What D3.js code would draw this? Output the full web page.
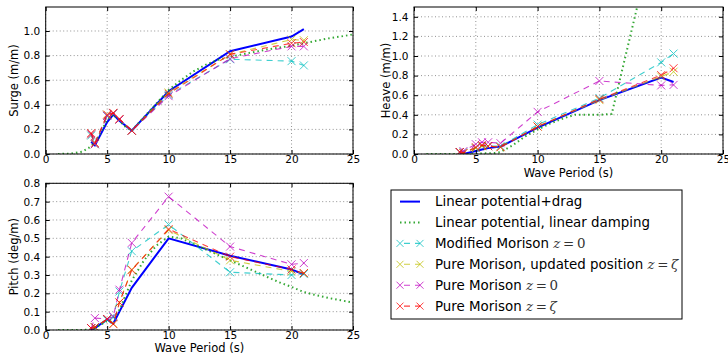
<!DOCTYPE html>
<html>
<head>
<meta charset="utf-8">
<script src="https://cdn.jsdelivr.net/npm/d3@7"></script>
<style>
  body { margin: 0; background: #fff; }
  svg text { font-family: "DejaVu Sans", sans-serif; fill: #000; }
  .tick text { font-size: 10.5px; }
  .axis-label { font-size: 11.5px; }
  .legend text { font-size: 13.4px; }
  .math { font-family: "DejaVu Serif", serif; font-style: italic; fill: #333; }
</style>
</head>
<body>
<svg id="chart" width="728" height="357"></svg>
<script>
// wave periods of the simulated cases, and the dense set for the linear-damping curve
const periods = [3.7, 4, 5, 5.5, 6, 7, 10, 15, 20, 21];
const dampPeriods = [1, 2, 3, 3.5, 4, 4.5, 5, 5.5, 6, 6.5, 7, 8, 9, 10, 11, 12, 13, 14, 15, 16, 17, 18, 19, 20, 21, 22, 23, 24, 25];

const xTicks = [0, 5, 10, 15, 20, 25];
const surgeTicks = [0, 0.2, 0.4, 0.6, 0.8, 1.0];
const heaveTicks = [0, 0.2, 0.4, 0.6, 0.8, 1.0, 1.2, 1.4];
const pitchTicks = [0, 0.1, 0.2, 0.3, 0.4, 0.5, 0.6, 0.7, 0.8];

const seriesLabels = ['Linear potential+drag', 'Linear potential, linear damping', 'Modified Morison ',
  'Pure Morison, updated position ', 'Pure Morison ', 'Pure Morison '];
const seriesMath = [null, null, ['z', '0'], ['z', 'ζ'], ['z', '0'], ['z', 'ζ']];

// surge (m/m)
const surgeDrag     = [0.10, 0.07, 0.26, 0.32, 0.27, 0.19, 0.51, 0.835, 0.955, 1.015];
const surgeDamping  = [0, 0.003, 0.02, 0.05, 0.09, 0.18, 0.28, 0.32, 0.27, 0.22, 0.19, 0.30, 0.41, 0.52, 0.60,
  0.67, 0.725, 0.765, 0.79, 0.81, 0.83, 0.85, 0.865, 0.88, 0.90, 0.92, 0.94, 0.955, 0.972];
const surgeModified = [0.15, 0.08, 0.31, 0.33, 0.28, 0.19, 0.48, 0.77, 0.755, 0.72];
const surgeUpdated  = [0.16, 0.08, 0.32, 0.33, 0.28, 0.19, 0.50, 0.81, 0.93, 0.925];
const surgePure0    = [0.16, 0.08, 0.31, 0.33, 0.28, 0.19, 0.47, 0.775, 0.875, 0.875];
const surgePureZeta = [0.17, 0.09, 0.32, 0.335, 0.285, 0.19, 0.49, 0.81, 0.90, 0.91];

// heave (m/m)
const heaveDrag     = [0.0, 0.0, 0.03, 0.045, 0.06, 0.075, 0.27, 0.55, 0.78, 0.735];
const heaveDamping  = [0, 0, 0, 0, 0, 0, 0.003, 0.005, 0.008, 0.01, 0.02, 0.09, 0.18, 0.25, 0.31,
  0.36, 0.40, 0.40, 0.40, 0.41, 0.94, 1.47, 2.0, null, null, null, null, null, null];
const heaveModified = [0.02, 0.02, 0.06, 0.08, 0.08, 0.08, 0.30, 0.57, 0.935, 1.025];
const heaveUpdated  = [0.02, 0.01, 0.06, 0.08, 0.08, 0.07, 0.28, 0.55, 0.79, 0.84];
const heavePure0    = [0.02, 0.03, 0.10, 0.12, 0.12, 0.11, 0.43, 0.745, 0.70, 0.705];
const heavePureZeta = [0.02, 0.01, 0.07, 0.09, 0.08, 0.07, 0.28, 0.56, 0.805, 0.875];

// pitch (deg/m)
const pitchDrag     = [0.0, 0.01, 0.058, 0.035, 0.10, 0.23, 0.50, 0.405, 0.33, 0.303];
const pitchDamping  = [0, 0, 0, 0.002, 0.01, 0.03, 0.05, 0.06, 0.11, 0.19, 0.27, 0.38, 0.46, 0.51, 0.50,
  0.47, 0.44, 0.41, 0.38, 0.35, 0.32, 0.29, 0.26, 0.235, 0.207, 0.19, 0.175, 0.162, 0.15];
const pitchModified = [0.01, 0.015, 0.055, 0.07, 0.21, 0.43, 0.575, 0.315, 0.30, 0.305];
const pitchUpdated  = [0.01, 0.015, 0.06, 0.035, 0.15, 0.33, 0.545, 0.38, 0.32, 0.31];
const pitchPure0    = [0.01, 0.065, 0.06, 0.075, 0.22, 0.475, 0.727, 0.455, 0.358, 0.365];
const pitchPureZeta = [0.01, 0.015, 0.06, 0.032, 0.15, 0.327, 0.55, 0.40, 0.33, 0.31];

// line styles, in legend order
const styles = [
  { color: '#0000ff', width: 2,   dash: null,    marker: false, opacity: 1 },
  { color: '#119911', width: 2,   dash: '1.5,3', marker: false, opacity: 0.85 },
  { color: '#00bfbf', width: 1.1, dash: '6,5',   marker: true,  opacity: 0.75 },
  { color: '#bfbf00', width: 1.1, dash: '6,5',   marker: true,  opacity: 0.75 },
  { color: '#bf00bf', width: 1.1, dash: '6,5',   marker: true,  opacity: 0.75 },
  { color: '#ff0000', width: 1.1, dash: '6,5',   marker: true,  opacity: 0.75 }
];

const svg = d3.select('#chart');
const xMark = 'M-4,-4L4,4M-4,4L4,-4';

function panel(p) {
  const x = d3.scaleLinear().domain([0, 25]).range([p.left, p.right]);
  const y = d3.scaleLinear().domain([0, p.ymax]).range([p.bottom, p.top]);
  const g = svg.append('g');

  // dotted grid
  g.append('g').selectAll('line').data(xTicks).join('line')
    .attr('x1', d => x(d)).attr('x2', d => x(d))
    .attr('y1', p.top).attr('y2', p.bottom)
    .attr('stroke', '#777').attr('stroke-width', 0.8).attr('stroke-dasharray', '1,2.5');
  g.append('g').selectAll('line').data(p.yTicks).join('line')
    .attr('x1', p.left).attr('x2', p.right)
    .attr('y1', d => y(d)).attr('y2', d => y(d))
    .attr('stroke', '#777').attr('stroke-width', 0.8).attr('stroke-dasharray', '1,2.5');

  g.append('clipPath').attr('id', p.id)
    .append('rect')
    .attr('x', p.left).attr('y', p.top)
    .attr('width', p.right - p.left).attr('height', p.bottom - p.top);

  const plot = g.append('g').attr('clip-path', `url(#${p.id})`);
  const line = d3.line().defined(d => d.v != null).x(d => x(d.t)).y(d => y(d.v));

  p.series.forEach((vals, i) => {
    const st = styles[i];
    const ts = i === 1 ? dampPeriods : periods;
    const pts = ts.map((t, j) => ({ t, v: vals[j] }));
    plot.append('path')
      .datum(pts)
      .attr('fill', 'none')
      .attr('stroke', st.color)
      .attr('stroke-width', st.width)
      .attr('stroke-dasharray', st.dash)
      .attr('opacity', st.opacity)
      .attr('d', line);
    if (st.marker) {
      plot.append('g').selectAll('path').data(pts.filter(d => d.v != null)).join('path')
        .attr('transform', d => `translate(${x(d.t)},${y(d.v)})`)
        .attr('d', xMark)
        .attr('stroke', st.color)
        .attr('stroke-width', 1)
        .attr('opacity', st.opacity);
    }
  });

  // axes with inward ticks on all four sides
  const bottom = g.append('g').attr('transform', `translate(0,${p.bottom})`)
    .call(d3.axisBottom(x).tickValues(xTicks).tickSizeInner(-4).tickSizeOuter(0).tickPadding(2).tickFormat(d3.format('d')));
  const top = g.append('g').attr('transform', `translate(0,${p.top})`)
    .call(d3.axisTop(x).tickValues(xTicks).tickSizeInner(-4).tickSizeOuter(0).tickFormat(''));
  const left = g.append('g').attr('transform', `translate(${p.left},0)`)
    .call(d3.axisLeft(y).tickValues(p.yTicks).tickSizeInner(-4).tickSizeOuter(0).tickPadding(5.5).tickFormat(d3.format('.1f')));
  const right = g.append('g').attr('transform', `translate(${p.right},0)`)
    .call(d3.axisRight(y).tickValues(p.yTicks).tickSizeInner(-4).tickSizeOuter(0).tickFormat(''));
  [bottom, top, left, right].forEach(a => {
    a.select('.domain').remove();
    a.attr('font-family', null).attr('font-size', null);
    a.selectAll('.tick line').attr('stroke', '#000');
  });

  g.append('rect')
    .attr('x', p.left).attr('y', p.top)
    .attr('width', p.right - p.left).attr('height', p.bottom - p.top)
    .attr('fill', 'none').attr('stroke', '#000').attr('stroke-width', 1);

  g.append('text')
    .attr('class', 'axis-label')
    .attr('transform', `translate(${p.ylabelX},${(p.top + p.bottom) / 2}) rotate(-90)`)
    .attr('text-anchor', 'middle')
    .text(p.ylabel);

  if (p.xlabel) {
    g.append('text')
      .attr('class', 'axis-label')
      .attr('x', (p.left + p.right) / 2)
      .attr('y', p.xlabelY)
      .attr('text-anchor', 'middle')
      .text(p.xlabel);
  }
}

panel({
  id: 'clip-surge', left: 45.7, right: 353, top: 7, bottom: 154, ymax: 1.195,
  yTicks: surgeTicks, ylabel: 'Surge (m/m)', ylabelX: 17.5,
  series: [surgeDrag, surgeDamping, surgeModified, surgeUpdated, surgePure0, surgePureZeta]
});

panel({
  id: 'clip-heave', left: 414, right: 723, top: 7, bottom: 154, ymax: 1.5,
  yTicks: heaveTicks, ylabel: 'Heave (m/m)', ylabelX: 390,
  xlabel: 'Wave Period (s)', xlabelY: 177,
  series: [heaveDrag, heaveDamping, heaveModified, heaveUpdated, heavePure0, heavePureZeta]
});

panel({
  id: 'clip-pitch', left: 45.7, right: 353, top: 183.3, bottom: 330, ymax: 0.8,
  yTicks: pitchTicks, ylabel: 'Pitch (deg/m)', ylabelX: 17.5,
  xlabel: 'Wave Period (s)', xlabelY: 352,
  series: [pitchDrag, pitchDamping, pitchModified, pitchUpdated, pitchPure0, pitchPureZeta]
});

// legend
const legend = svg.append('g').attr('class', 'legend');
legend.append('rect')
  .attr('x', 391).attr('y', 190)
  .attr('width', 291).attr('height', 129)
  .attr('fill', '#fff').attr('stroke', '#000').attr('stroke-width', 1);

seriesLabels.forEach((label, i) => {
  const st = styles[i];
  const cy = 201.6 + i * 20.9;
  legend.append('line')
    .attr('x1', 400).attr('x2', 420).attr('y1', cy).attr('y2', cy)
    .attr('stroke', st.color)
    .attr('stroke-width', st.width)
    .attr('stroke-dasharray', st.marker ? '6,5' : st.dash)
    .attr('stroke-dashoffset', st.marker ? -4 : 0)
    .attr('opacity', st.opacity);
  if (st.marker) {
    [400, 420].forEach(mx => {
      legend.append('path')
        .attr('transform', `translate(${mx},${cy})`)
        .attr('d', 'M-3.5,-3.5L3.5,3.5M-3.5,3.5L3.5,-3.5')
        .attr('stroke', st.color).attr('stroke-width', 1).attr('opacity', st.opacity);
    });
  }
  const t = legend.append('text').attr('x', 435).attr('y', cy + 4.6).text(label);
  const m = seriesMath[i];
  if (m) {
    t.append('tspan').attr('class', 'math').text(m[0]);
    t.append('tspan').attr('class', 'math').style('font-style', 'normal').text('\u2009=\u2009');
    t.append('tspan').attr('class', 'math').style('font-style', m[1] === '0' ? 'normal' : 'italic').text(m[1]);
  }
});
</script>
</body>
</html>
